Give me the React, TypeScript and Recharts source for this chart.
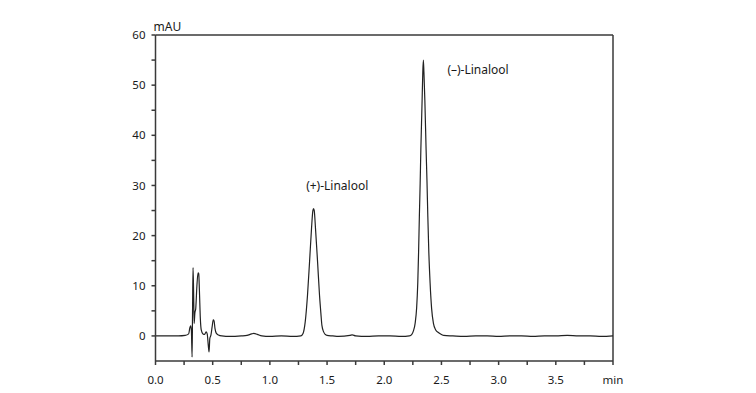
import React from 'react';
import { LineChart, Line, XAxis, YAxis, ReferenceLine, ReferenceDot } from 'recharts';

// retention time (min) and detector signal (mAU)
const timeMin = [
  0.0, 0.1, 0.2, 0.26, 0.29, 0.3, 0.308, 0.314, 0.32, 0.324, 0.328, 0.333, 0.338, 0.344, 0.352,
  0.362, 0.372, 0.378, 0.384, 0.392, 0.4, 0.415, 0.43, 0.442, 0.452, 0.462, 0.468, 0.475, 0.485,
  0.495, 0.505, 0.512, 0.52, 0.532, 0.55, 0.58, 0.65, 0.75, 0.8, 0.84, 0.86, 0.89, 0.93, 1.0,
  1.1, 1.2, 1.27, 1.29, 1.309, 1.329, 1.347, 1.364, 1.376, 1.382, 1.388, 1.399, 1.417, 1.434,
  1.446, 1.455, 1.47, 1.484, 1.5, 1.55, 1.6, 1.7, 1.72, 1.75, 1.85, 1.95, 2.05, 2.15, 2.22,
  2.241, 2.255, 2.27, 2.283, 2.293, 2.3, 2.307, 2.314, 2.32, 2.326, 2.331, 2.337, 2.342, 2.347,
  2.355, 2.366, 2.374, 2.381, 2.39, 2.401, 2.414, 2.43, 2.45, 2.473, 2.5, 2.52, 2.6, 2.7, 2.8,
  2.9, 3.0, 3.1, 3.2, 3.3, 3.4, 3.5, 3.6, 3.7, 3.8, 3.9, 4.0,
];
const signalMAU = [
  0.0, 0.0, 0.0, 0.1, 0.4, 1.6, 2.0, 1.0, -4.2, 5.0, 13.6, 9.0, 2.5, 4.5, 5.5,
  10.0, 12.6, 12.4, 9.0, 3.5, 1.2, 0.4, 0.3, 0.8, 0.4, -2.0, -3.2, -0.5, 0.2,
  1.8, 3.2, 3.0, 1.5, 0.5, 0.2, 0.0, -0.1, 0.0, 0.1, 0.4, 0.5, 0.3, 0.0, -0.1,
  0.0, -0.1, 0.0, 0.5, 2.8, 8.1, 14.8, 21.4, 25.0, 25.4, 25.0, 21.4, 14.8, 8.1,
  4.5, 2.1, 0.8, 0.3, 0.1, 0.0, -0.1, 0.1, 0.2, 0.0, -0.1, 0.0, 0.0, -0.1, 0.0,
  0.3, 1.0, 2.5, 5.5, 10.5, 16.5, 23.8, 30.5, 37.1, 42.5, 47.0, 52.5, 55.0, 52.5,
  47.0, 37.1, 30.5, 23.8, 16.5, 10.5, 5.5, 2.5, 1.2, 0.7, 0.3, 0.1, 0.0, -0.1, 0.0,
  0.0, -0.1, 0.0, 0.0, -0.1, 0.0, 0.0, 0.1, 0.0, 0.0, -0.1, 0.0,
];

const xTicks = [0, 0.25, 0.5, 0.75, 1, 1.25, 1.5, 1.75, 2, 2.25, 2.5, 2.75, 3, 3.25, 3.5, 3.75, 4];
const yTicks = [0, 5, 10, 15, 20, 25, 30, 35, 40, 45, 50, 55, 60];

const peakLabels = [
  { name: '(+)-Linalool', t: 1.589, v: 29.9 },
  { name: '(–)-Linalool', t: 2.82, v: 53.0 },
];

const data = timeMin.map((t, i) => ({ t, v: signalMAU[i] }));

const axisColor = '#3a3a3a';
const textColor = '#1a1a1a';
const font = '"Noto Sans", sans-serif';

const fmtX = (t: number) => {
  if (t === 4) return 'min';
  return Math.abs(t * 2 - Math.round(t * 2)) < 1e-9 ? t.toFixed(1) : '';
};
const fmtY = (v: number) => (v % 10 === 0 ? String(v) : '');

const App: React.FC = () => {
  return (
    <div style={{ width: 748, height: 385 }}>
      <LineChart
        width={748}
        height={385}
        data={data}
        margin={{ top: 27, right: 143, left: 87.5, bottom: 2 }}
        style={{ fontFamily: font }}
      >
        <XAxis
          type="number"
          dataKey="t"
          domain={[0, 4]}
          ticks={xTicks}
          interval={0}
          tickFormatter={fmtX}
          tickSize={4}
          tickMargin={11}
          height={30}
          allowDataOverflow
          stroke={axisColor}
          strokeWidth={1.5}
          tick={{ fill: textColor, fontSize: 11.5 }}
        />
        <YAxis
          type="number"
          domain={[-5, 60]}
          ticks={yTicks}
          interval={0}
          tickFormatter={fmtY}
          tickSize={4}
          tickMargin={6}
          width={60}
          allowDataOverflow
          stroke={axisColor}
          strokeWidth={1.5}
          tick={{ fill: textColor, fontSize: 11.5 }}
        />
        <ReferenceLine y={60} stroke={axisColor} strokeWidth={1.5} />
        <ReferenceLine x={4} stroke={axisColor} strokeWidth={1.5} />
        <Line
          type="monotone"
          dataKey="v"
          stroke="#222"
          strokeWidth={1.2}
          dot={false}
          activeDot={false}
          isAnimationActive={false}
        />
        <ReferenceDot
          x={0}
          y={60}
          r={1}
          fill="none"
          stroke="none"
          label={{
            content: (props: any) => {
              const vb = props.viewBox || {};
              return (
                <text x={vb.x - 1} y={vb.y - 3} fill={textColor} fontSize={12} fontFamily={font}>
                  mAU
                </text>
              );
            },
          }}
        />
        {peakLabels.map((p) => (
          <ReferenceDot
            key={p.name}
            x={p.t}
            y={p.v}
            r={1}
            fill="none"
            stroke="none"
            label={{ value: p.name, position: 'center', fill: textColor, fontSize: 12 }}
          />
        ))}
      </LineChart>
    </div>
  );
};

export default App;
